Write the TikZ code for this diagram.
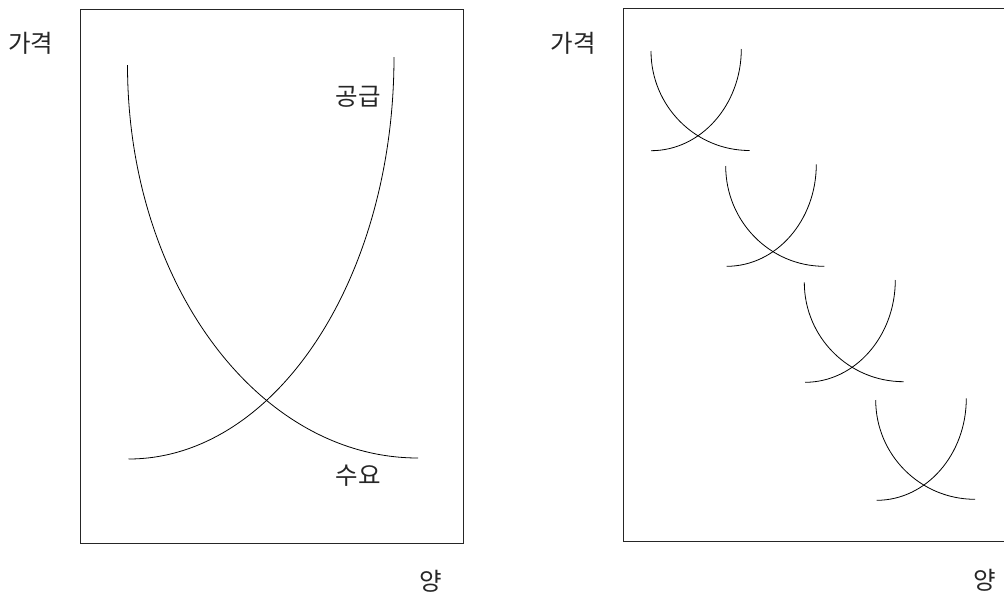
\documentclass[tikz,border=0pt]{standalone}
\usepackage{fontspec}
\newfontfamily\kr{Noto Sans CJK KR}
\begin{document}
\begin{tikzpicture}[x=1pt,y=-1pt,
  frame/.style={draw=black!85,line width=1pt},
  curve/.style={draw=black,line width=0.8pt},
  lbl/.style={font=\kr\fontsize{24.5}{28}\selectfont,inner sep=0pt,text=black!85}]
\useasboundingbox (0,0) rectangle (1004,595);
\clip (0,0) rectangle (1004,595);
% frames
\draw[frame] (80,9) rectangle (463,543);
\draw[frame] (623.5,8) rectangle (1012,541.5);
% labels
\node[lbl] (p1) at (31,43) {가격};
\node[lbl] (p2) at (573,43) {가격};
\node[lbl] (s1) at (358,97) {공급};
\node[lbl] (d1) at (358,476) {수요};
\node[lbl] (q1) at (431,581) {양};
\node[lbl] (q2) at (985,580) {양};
% left panel
\draw[curve] (127.5,65) .. controls (127.5,282) and (257.6,458) .. (418,458);
\draw[curve] (128.5,459) .. controls (275.1,459) and (394,279) .. (394,57);
% right panel pairs
\draw[curve] (651,51) .. controls (651,105.9) and (695.1,150.5) .. (749.5,150.5);
\draw[curve] (651,150.7) .. controls (700.8,150.7) and (741.3,105.1) .. (741.3,49);
\draw[curve] (725.7,166) .. controls (725.7,221.4) and (769.9,266.3) .. (824.3,266.3);
\draw[curve] (726.7,266.3) .. controls (776.2,266.3) and (816.3,220.6) .. (816.3,164.3);
\draw[curve] (804.3,282.3) .. controls (804.3,337.2) and (848.8,381.7) .. (903.7,381.7);
\draw[curve] (805,382.3) .. controls (854.8,382.3) and (895.3,336.5) .. (895.3,280);
\draw[curve] (875.7,400) .. controls (875.7,454.8) and (920.2,499.3) .. (975,499.3);
\draw[curve] (876.7,500.3) .. controls (926.2,500.3) and (966.3,454.6) .. (966.3,398.3);
\end{tikzpicture}
\end{document}
